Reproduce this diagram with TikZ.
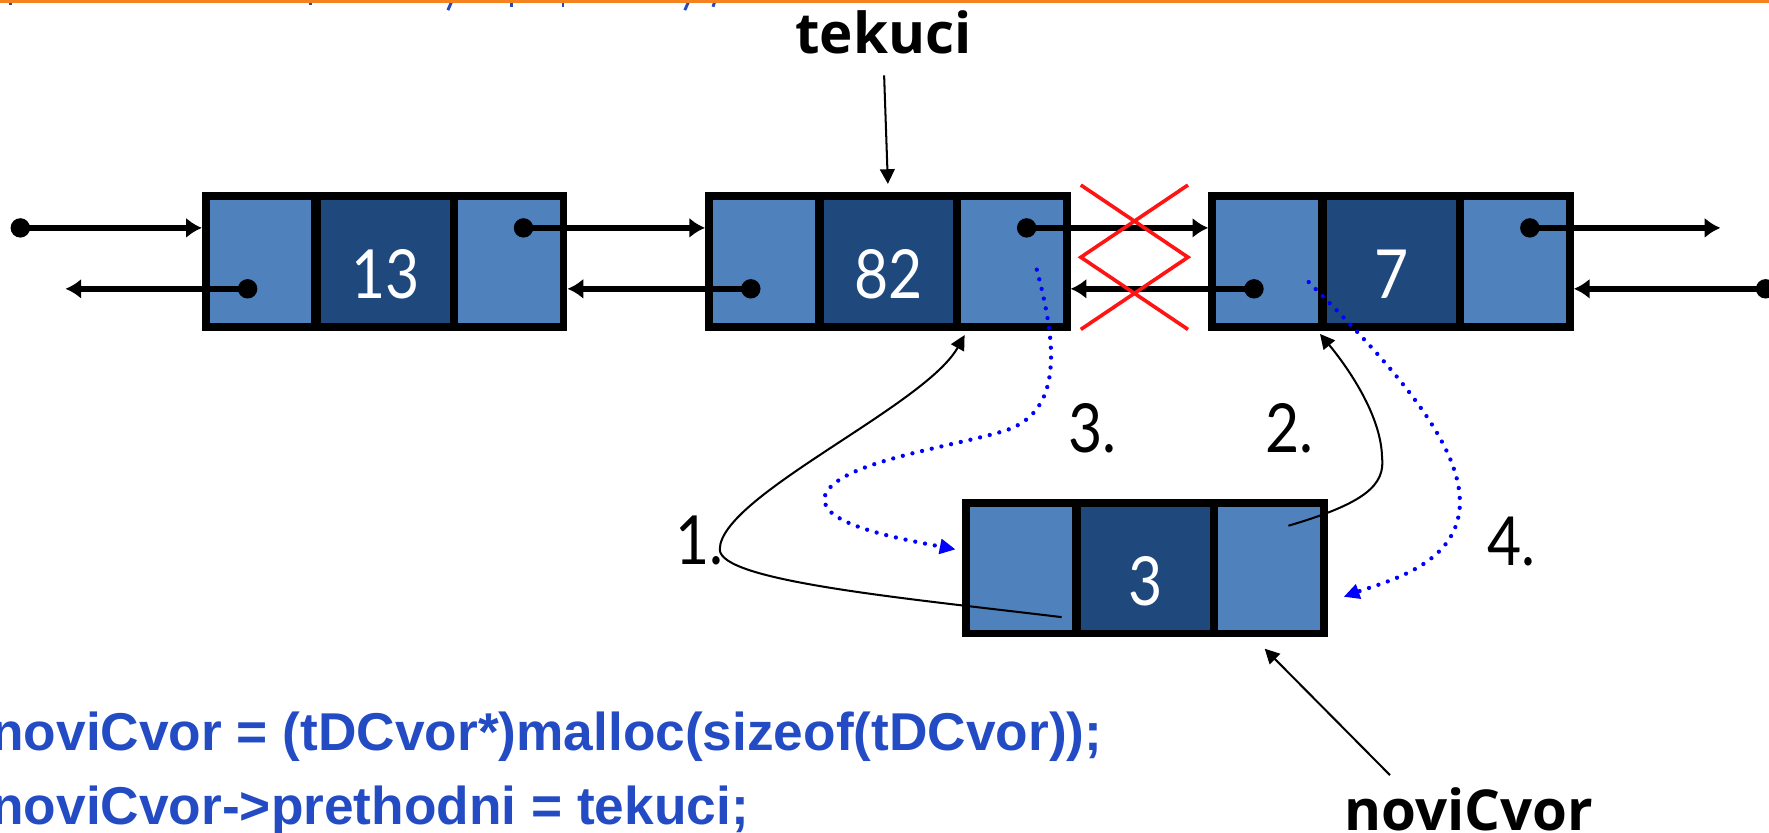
\documentclass[tikz,border=0pt]{standalone}
\usepackage{graphicx}
\usepackage{fontspec}
\setmainfont{Liberation Sans}
\newfontfamily\numfont{Lato}
\newfontfamily\tagfont{Open Sans}
\usetikzlibrary{arrows.meta,calc}

\definecolor{cellLight}{RGB}{79,129,189}
\definecolor{cellDark}{RGB}{31,73,125}
\definecolor{codeBlue}{RGB}{35,75,195}
\definecolor{barOrange}{RGB}{245,130,32}
\definecolor{crossRed}{RGB}{255,20,20}
\definecolor{hintBlue}{RGB}{0,0,255}

% one list element: black frame with prev / value / next cells
\newcommand\listelem[4]{%
  \node[outerbox, anchor=north west] (#1) at (#2,#3) {};
  \node[sidecell, anchor=north west] (#1-l) at ($(#1.north west)+(7,7)$) {};
  \node[midcell, anchor=north west] (#1-m) at ($(#1.north west)+(105.5,7)$) {};
  \node[sidecell, anchor=north east] (#1-r) at ($(#1.north east)+(-7,7)$) {};
  \node[numtext, anchor=base] (#1-v) at ($(#1.north west)+(162.8,95)$) {\scalebox{0.87}[1]{#4}};
}
% pointer dots of an element: next (upper right) and prev (lower left)
\newcommand\elemdots[1]{%
  \node[ptrdot] (#1-p) at ($(#1.north west)+(285,32)$) {};
  \node[ptrdot] (#1-q) at ($(#1.north west)+(40.5,86)$) {};
}

\begin{document}
\begin{tikzpicture}[x=0.5pt,y=-0.5pt,
  outerbox/.style={fill=black, inner sep=0pt, outer sep=0pt, minimum width=162pt, minimum height=61.5pt},
  sidecell/.style={fill=cellLight, inner sep=0pt, outer sep=0pt, minimum width=45pt, minimum height=54.5pt},
  midcell/.style={fill=cellDark, inner sep=0pt, outer sep=0pt, minimum width=57pt, minimum height=54.5pt},
  numtext/.style={text=white, inner sep=0pt, font=\numfont\fontsize{30}{36}\selectfont},
  steptext/.style={text=black, inner sep=0pt, font=\numfont\fontsize{30}{36}\selectfont},
  tagtext/.style={text=black, inner sep=0pt, font=\tagfont\bfseries\fontsize{25}{29}\selectfont},
  codetext/.style={text=codeBlue, inner sep=0pt, font=\bfseries\fontsize{23.6}{28}\selectfont},
  ptrdot/.style={circle, fill=black, inner sep=0pt, minimum size=8.6pt},
  ptr/.style={line width=2.4pt, -{Latex[length=7pt,width=9pt]}},
  thinptr/.style={line width=0.9pt, -{Triangle[length=6.5pt,width=6.5pt]}},
  hint/.style={draw=hintBlue, line width=1.9pt, line cap=round, dash pattern=on 0pt off 4.4pt,
               -{Triangle[length=7pt,width=6.5pt]}},
  cross/.style={draw=crossRed, line width=1.6pt},
  tick/.style={draw=codeBlue, line width=1.3pt},
]
\useasboundingbox (0,0) rectangle (1568,738);
\clip (0,0) rectangle (1568,738);

% descenders of the previous code line and the header rule
\draw[tick] (9,0) -- (9,4);
\draw[tick] (275,0) -- (275,4);
\draw[tick] (401,0) -- (397,9);
\draw[tick] (453,0) -- (453,6);
\draw[tick] (499,0) -- (499,6);
\draw[tick] (611,0) -- (607,9);
\draw[tick] (634,0) -- (632,6);
\fill[barOrange] (0,0) rectangle (1568,2.5);

% list elements
\listelem{A}{179}{170}{13}
\listelem{B}{625}{170}{82}
\listelem{C}{1071}{170}{7}
\listelem{N}{853}{442}{3}
\elemdots{A}
\elemdots{B}
\elemdots{C}

% outer ends of the list
\node[ptrdot] (inL) at (18,202) {};
\coordinate (outL) at (58,256);
\coordinate (outR) at (1525,202);
\node[ptrdot] (inR) at (1565,256) {};

% next / prev pointers
\draw[ptr] (inL.center) -- (inL.center -| A.west);
\draw[ptr] (A-q.center) -- (outL);
\draw[ptr] (A-p.center) -- (A-p.center -| B.west);
\draw[ptr] (B-q.center) -- (B-q.center -| A.east);
\draw[ptr] (B-p.center) -- (B-p.center -| C.west);
\draw[ptr] (C-q.center) -- (C-q.center -| B.east);
\draw[ptr] (C-p.center) -- (outR);
\draw[ptr] (inR.center) -- (inR.center -| C.east);

% links that are removed
\draw[cross] (958,164) -- (1053,228) -- (958,292);
\draw[cross] (1053,164) -- (958,228) -- (1053,292);

% labels with their pointers
\node[tagtext, anchor=base] (tekuci) at (783,47) {tekuci};
\draw[thinptr, shorten <=9.5pt] (tekuci.south) -- ($(B.north)+(0,-7)$);
\node[tagtext, anchor=base] (novi) at (1302,736) {noviCvor};
\coordinate (noviTail) at (1232,687);
\draw[thinptr] (noviTail) -- ($(N.south east)+(-56,10)$);

% steps 1 and 2: new element points back to tekuci and forward to its successor
\coordinate (s1) at (941,547);
\coordinate (e1) at (855,297);
\draw[thinptr] (s1) .. controls (800,530) and (638,515) .. (638,487)
                    .. controls (638,440) and (820,360) .. (e1);
\coordinate (s2) at (1142,466);
\coordinate (e2) at (1170,296);
\draw[thinptr] (s2) .. controls (1210,446) and (1228,430) .. (1225,405)
                    .. controls (1224,365) and (1190,320) .. (e2);

% steps 3 and 4: neighbours are redirected to the new element
\coordinate (s3) at (919,239);
\coordinate (e3) at (847,487);
\draw[hint] (s3) .. controls (935,300) and (945,365) .. (890,382)
                 .. controls (840,397) and (740,410) .. (731,440)
                 .. controls (725,465) and (800,478) .. (e3);
\coordinate (s4) at (1160,250);
\coordinate (e4) at (1191,529);
\draw[hint] (s4) .. controls (1230,320) and (1294,390) .. (1294,445)
                 .. controls (1294,500) and (1230,515) .. (e4);

% step numbers
\node[steptext, anchor=base] (st1) at (620,500) {\scalebox{0.87}[1]{1.}};
\node[steptext, anchor=base] (st2) at (1143,401) {\scalebox{0.87}[1]{2.}};
\node[steptext, anchor=base] (st3) at (968,401) {\scalebox{0.87}[1]{3.}};
\node[steptext, anchor=base] (st4) at (1340,501) {\scalebox{0.87}[1]{4.}};

% code lines
\node[codetext, anchor=base west] (code1) at (-8,665) {noviCvor = (tDCvor*)malloc(sizeof(tDCvor));};
\node[codetext, anchor=base west] (code2) at (-8,731) {noviCvor->prethodni = tekuci;};
\end{tikzpicture}
\end{document}
